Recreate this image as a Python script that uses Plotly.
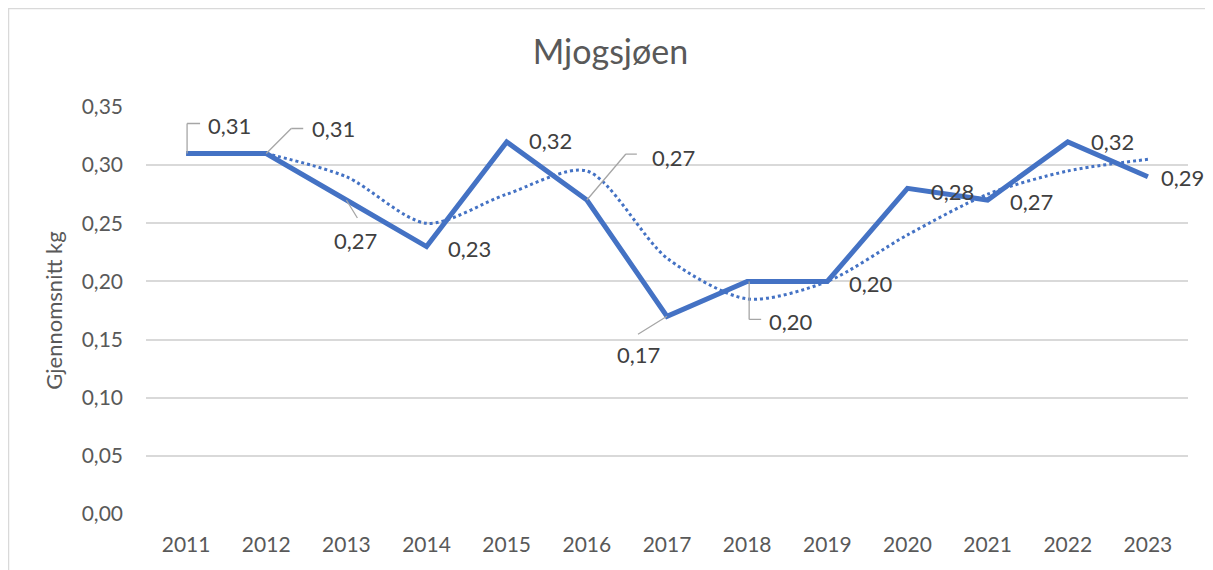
import plotly.graph_objects as go

years = [2011, 2012, 2013, 2014, 2015, 2016, 2017, 2018, 2019, 2020, 2021, 2022, 2023]
values = [0.31, 0.31, 0.27, 0.23, 0.32, 0.27, 0.17, 0.20, 0.20, 0.28, 0.27, 0.32, 0.29]
# moving-average trend line (dotted)
trend = [None, 0.31, 0.29, 0.25, 0.275, 0.295, 0.22, 0.185, 0.20, 0.24, 0.275, 0.295, 0.305]

title = "Mjogsjøen"
y_title = "Gjennomsnitt kg"

# data-label offsets (pixels, +down) relative to the point
label_pos = {
    2011: (43, -28), 2012: (67, -25), 2013: (9, 40), 2014: (43, 2),
    2015: (44, -1), 2016: (87, -43), 2017: (-29, 38), 2018: (44, 40),
    2019: (44, 2), 2020: (45, 3), 2021: (44, 1), 2022: (45, 0), 2023: (35, 1),
}
# leader line segments: (start dx, start dy, end dx, end dy) in pixels from the point
leaders = {
    2011: [(1, 0, 1, -30), (1, -30, 14, -30)],
    2012: [(0, 0, 25, -25), (25, -25, 37, -25)],
    2013: [(0, 0, 11, 18)],
    2016: [(0, 0, 39, -46), (39, -46, 50, -46)],
    2017: [(0, 0, -29, 18)],
    2018: [(2, 0, 2, 38), (2, 38, 14, 38)],
}

FONT = "Lato"
GRAY = "#595959"
BLUE = "#4472C4"

W, H = 1205, 562
L, R, T, B = 138, 25, 99, 56
PW, PH = W - L - R, H - T - B

fig = go.Figure()
fig.add_trace(go.Scatter(
    x=years, y=trend, mode="lines",
    line=dict(color=BLUE, width=3, dash="dot", shape="spline", smoothing=0.8),
    hoverinfo="skip", showlegend=False,
))
fig.add_trace(go.Scatter(
    x=years, y=values, mode="lines",
    line=dict(color=BLUE, width=5),
    showlegend=False,
))

annotations = []
for yr, v in zip(years, values):
    for (sx, sy, ex, ey) in leaders.get(yr, []):
        annotations.append(dict(
            x=yr, y=v, xref="x", yref="y", text="",
            xshift=sx, yshift=-sy, borderpad=0, borderwidth=0,
            font=dict(size=1),
            showarrow=True, arrowhead=0, arrowwidth=1.3, arrowcolor="#A6A6A6",
            ax=ex - sx, ay=ey - sy, standoff=0, startstandoff=0,
        ))
    dx, dy = label_pos[yr]
    txt = f"{v:.2f}".replace(".", ",")
    annotations.append(dict(
        x=yr, y=v, xref="x", yref="y", text=txt, showarrow=False,
        xshift=dx, yshift=-dy,
        font=dict(family=FONT, size=22, color="#404040"),
    ))

fig.update_layout(
    width=W, height=H,
    margin=dict(l=L, r=R, t=T, b=B),
    paper_bgcolor="white", plot_bgcolor="white",
    separators=",.",
    font=dict(family=FONT, color=GRAY, size=21),
    title=dict(text=title, x=0.5, xanchor="center", y=1 - 44 / H, yanchor="middle",
               yref="container", font=dict(family=FONT, size=34, color=GRAY)),
    xaxis=dict(range=[2010.5, 2023.5], tickmode="array", tickvals=years,
               ticktext=[str(y) for y in years], showgrid=False, zeroline=False,
               showline=False, ticks="", ticklabelstandoff=16,
               tickfont=dict(family=FONT, size=21, color=GRAY)),
    yaxis=dict(range=[0, 0.35], dtick=0.05, tickformat=".2f", showgrid=True,
               gridcolor="#D9D9D9", gridwidth=1.5, zeroline=False, showline=False,
               ticks="", ticklabelstandoff=22,
               tickfont=dict(family=FONT, size=21, color=GRAY),
               title=dict(text=y_title, standoff=12,
                          font=dict(family=FONT, size=22, color=GRAY))),
    annotations=annotations,
    shapes=[dict(type="rect", xref="paper", yref="paper",
                 x0=-(L - 0.5) / PW, x1=(W - L - 1) / PW,
                 y0=-(B + 20) / PH, y1=1 + (T - 0.5) / PH,
                 line=dict(color="#D9D9D9", width=1.5), layer="below")],
)

fig.write_html("out.html")
